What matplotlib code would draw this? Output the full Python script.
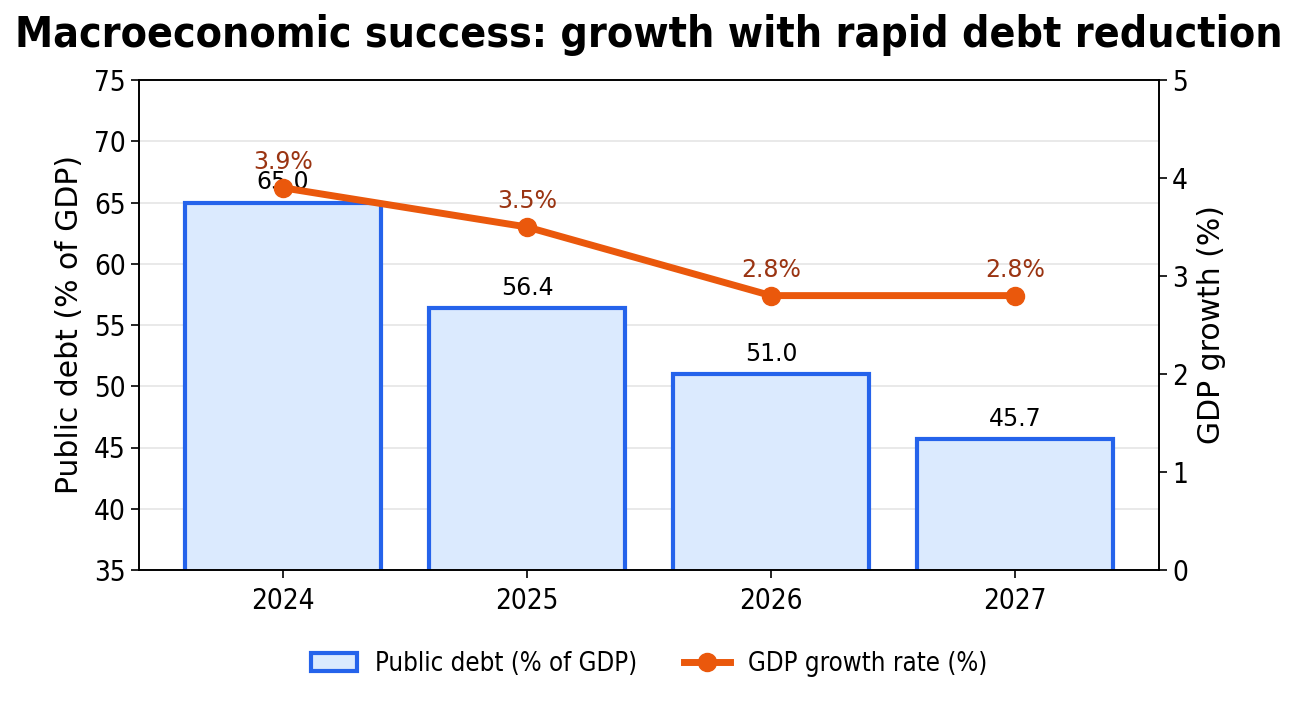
import matplotlib
matplotlib.use("Agg")
import matplotlib.pyplot as plt

years = ["2024", "2025", "2026", "2027"]
debt = [65.0, 56.4, 51.0, 45.7]
growth = [3.9, 3.5, 2.8, 2.8]

plt.rcParams['font.family'] = ['DejaVu Sans']

COND = dict(family='DejaVu Sans', stretch='condensed')
REG = dict(family='DejaVu Sans', stretch='normal')

fig = plt.figure(figsize=(12.97, 7.03), dpi=100)
ax = fig.add_axes([139/1297, 1-570/703, (1159-139)/1297, (570-80)/703])
x = list(range(len(years)))
ax.bar(x, debt, width=0.8, color="#dbeafe", edgecolor="#2563eb", linewidth=3,
       label="Public debt (% of GDP)", zorder=2)
ax.set_ylim(35, 75)
ax.set_xticks(x)
ax.set_xticklabels(years)
ax.tick_params(width=1.2, length=6)
ax.tick_params(axis='x', pad=6)
ax.grid(axis='y', color="#e5e5e5", linewidth=1.2, zorder=0)
ax.set_axisbelow(True)
ax.set_ylabel("Public debt (% of GDP)", fontsize=21.5, labelpad=7, **REG)
for xi, v in zip(x, debt):
    ax.annotate(f"{v:.1f}", (xi, v), xytext=(0, 6), textcoords='offset points',
                ha='center', va='bottom', fontsize=17, **REG)

ax2 = ax.twinx()
ax2.plot(x, growth, color="#ea580c", linewidth=5, marker='o', markersize=13,
         label="GDP growth rate (%)", zorder=3)
ax2.set_ylim(0, 5)
ax2.tick_params(width=1.2, length=6)
ax2.set_ylabel("GDP growth (%)", fontsize=21.5, labelpad=6, **REG)
for xi, v in zip(x, growth):
    ax2.annotate(f"{v:.1f}%", (xi, v), xytext=(0, 10), textcoords='offset points',
                 ha='center', va='bottom', fontsize=17, color="#9a3412", **REG)
for a in (ax, ax2):
    for s in a.spines.values():
        s.set_linewidth(1.2)
    for lab in a.get_xticklabels() + a.get_yticklabels():
        lab.set_fontsize(20)
        lab.set_fontstretch('condensed')

h1, l1 = ax.get_legend_handles_labels()
h2, l2 = ax2.get_legend_handles_labels()
leg = fig.legend(h1 + h2, l1 + l2, loc='center', bbox_to_anchor=(649/1297, 1-664/703), ncol=2,
                 frameon=False, prop=dict(size=18.5, **COND), columnspacing=1.8,
                 handlelength=1.8, handletextpad=0.7)
fig.suptitle("Macroeconomic success: growth with rapid debt reduction", fontsize=30.7,
             fontweight='bold', y=1-35/703, va='center', **COND)
fig.savefig("out.png", dpi=100)
